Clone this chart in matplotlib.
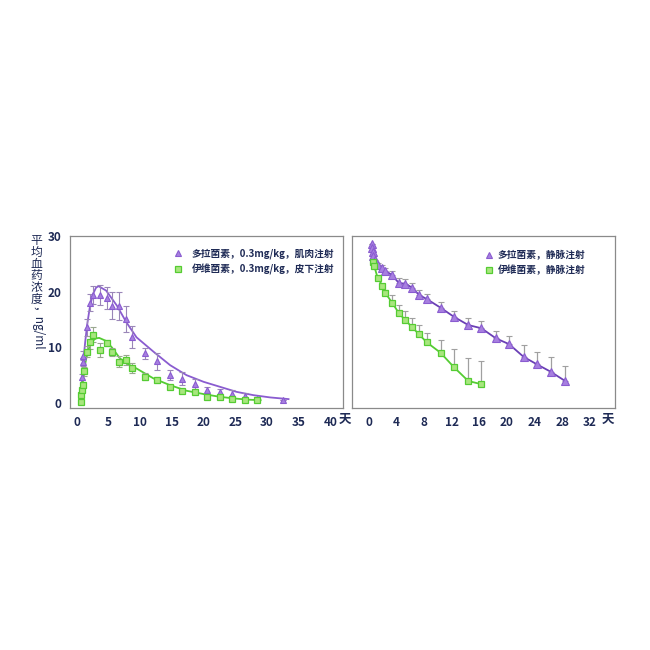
import numpy as np
import matplotlib
matplotlib.use("Agg")
import matplotlib.pyplot as plt
from matplotlib.lines import Line2D

plt.rcParams['font.family'] = ['Noto Sans CJK SC', 'DejaVu Sans']

# ---- left panel: intramuscular / subcutaneous, linear scale ----
dola_im_x = [0.74, 0.9, 1.0, 1.6, 2.05, 2.5, 3.6, 4.8, 5.6, 6.7, 7.7, 8.7, 10.7,
             12.7, 14.7, 16.6, 18.6, 20.6, 22.6, 24.5, 26.5, 28.5, 32.6]
dola_im_y = [4.7, 7.4, 8.5, 13.6, 18.0, 19.4, 19.4, 18.8, 17.5, 17.4, 15.1, 11.8, 8.9,
             7.5, 5.0, 4.4, 3.5, 2.3, 2.0, 1.55, 1.25, 0.8, 0.5]
dola_im_err = [0.5, 0.7, 0.8, 1.5, 1.5, 1.6, 1.8, 2.0, 2.4, 2.5, 2.4, 2.0, 1.0,
               1.5, 0.9, 1.2, 0.9, 0.6, 0.6, 0.7, 0.5, 0.3, 0.0]
dola_fit_x = [0.6, 0.8, 1.0, 1.3, 1.6, 2.0, 2.5, 3.0, 3.4, 4.6, 6.3, 7.8, 9.4, 12.1,
              14.7, 17.3, 20.0, 22.6, 25.2, 27.9, 30.5, 33.4]
dola_fit_y = [0.5, 4.0, 7.5, 11.0, 14.0, 17.0, 19.5, 20.7, 21.0, 20.2, 17.5, 14.5, 11.8,
              9.2, 6.8, 5.0, 3.8, 2.9, 2.0, 1.4, 1.0, 0.7]

ive_sc_x = [0.63, 0.7, 0.8, 0.95, 1.15, 1.6, 2.05, 2.6, 3.6, 4.7, 5.6, 6.7, 7.7, 8.7,
            10.7, 12.7, 14.7, 16.6, 18.6, 20.6, 22.6, 24.5, 26.5, 28.5]
ive_sc_y = [0.2, 1.4, 2.3, 3.2, 5.7, 9.2, 10.9, 12.3, 9.5, 10.8, 9.2, 7.4, 7.7, 6.2,
            4.7, 4.1, 2.8, 2.1, 1.9, 1.0, 1.0, 0.7, 0.5, 0.5]
ive_sc_err = [0.0, 0.3, 0.4, 0.5, 0.8, 1.0, 1.2, 1.4, 1.2, 0.6, 0.7, 1.0, 0.9, 0.9,
              0.6, 0.5, 0.2, 0.2, 0.2, 0.2, 0.2, 0.2, 0.2, 0.2]
ive_fit_x = [0.6, 0.8, 1.0, 1.3, 1.6, 2.0, 2.5, 3.0, 3.5, 4.5, 5.5, 6.8, 8.0, 9.4,
             12.1, 14.7, 17.3, 20.0, 22.6, 25.0, 27.0, 29.0]
ive_fit_y = [0.3, 2.5, 4.5, 7.0, 8.8, 10.2, 11.2, 11.6, 11.7, 11.2, 10.0, 8.0, 7.0, 6.2,
             4.4, 3.2, 2.2, 1.6, 1.1, 0.8, 0.6, 0.5]

# ---- right panel: intravenous, log scale (no y labels) ----
dola_iv_x = [0.45, 0.5, 0.6, 0.7, 0.9, 1.3, 2.0, 2.4, 3.4, 4.4, 5.3, 6.3, 7.3, 8.4,
             10.4, 12.3, 14.4, 16.3, 18.4, 20.3, 22.4, 24.3, 26.3, 28.4]
dola_iv_y = [36.3, 30.9, 26.3, 22.4, 19.1, 15.6, 13.7, 12.4, 10.4, 7.5, 7.4, 6.27, 4.68,
             3.98, 2.81, 1.96, 1.40, 1.23, 0.82, 0.65, 0.39, 0.29, 0.215, 0.148]
dola_iv_err = [0, 0, 0, 0, 0, 1.3, 1.75, 1.6, 1.8, 1.67, 1.64, 1.39, 1.04, 0.88,
               0.77, 0.54, 0.46, 0.40, 0.27, 0.25, 0.24, 0.18, 0.18, 0.12]

ive_iv_x = [0.6, 0.8, 1.3, 2.0, 2.4, 3.4, 4.4, 5.3, 6.3, 7.3, 8.4, 10.4, 12.3, 14.4, 16.3]
ive_iv_y = [17.4, 15.2, 9.37, 6.79, 5.13, 3.43, 2.24, 1.71, 1.28, 0.96, 0.70, 0.46,
            0.26, 0.148, 0.13]
ive_iv_err = [0, 0, 0, 0, 0.66, 1.3, 0.85, 0.74, 0.56, 0.42, 0.30, 0.32, 0.28, 0.22, 0.20]

left_xticks = [0, 5, 10, 15, 20, 25, 30, 35, 40]
left_yticks = [0, 10, 20, 30]
right_xticks = [0, 4, 8, 12, 16, 20, 24, 28, 32]

purple = '#8a5cd0'
purple_face = '#a77fe0'
green = '#55cc33'
green_face = '#a8e67e'
navy = '#1e2a55'

fig = plt.figure(figsize=(6.5, 6.5), dpi=100)
ax1 = fig.add_axes([0.1077, 0.3723, 0.42, 0.2646])
ax2 = fig.add_axes([0.5415, 0.3723, 0.4046, 0.2646])

for ax in (ax1, ax2):
    for s in ax.spines.values():
        s.set_color('#8a8a8a')
        s.set_linewidth(0.9)
    ax.tick_params(length=0, labelsize=8.5, labelcolor=navy, pad=6)

# left panel
ax1.plot(dola_fit_x, dola_fit_y, color=purple, lw=1.3, zorder=2)
ax1.plot(ive_fit_x, ive_fit_y, color=green, lw=1.3, zorder=2)
ax1.errorbar(dola_im_x, dola_im_y, yerr=dola_im_err, fmt='none', ecolor='#9a86b8',
             elinewidth=0.8, capsize=2, capthick=0.8, zorder=3)
ax1.errorbar(ive_sc_x, ive_sc_y, yerr=ive_sc_err, fmt='none', ecolor='#9aa890',
             elinewidth=0.8, capsize=2, capthick=0.8, zorder=3)
ax1.plot(dola_im_x, dola_im_y, ls='none', marker='^', ms=5, mfc=purple_face,
         mec=purple, mew=0.8, zorder=4, label='多拉菌素，0.3mg/kg，肌肉注射')
ax1.plot(ive_sc_x, ive_sc_y, ls='none', marker='s', ms=4.5, mfc=green_face,
         mec=green, mew=0.9, zorder=4, label='伊维菌素，0.3mg/kg，皮下注射')
ax1.set_xlim(-1.1, 42)
ax1.set_ylim(-0.9, 30)
ax1.set_xticks(left_xticks)
ax1.set_yticks(left_yticks)
ax1.set_xticklabels([str(t) for t in left_xticks], fontweight='bold')
ax1.set_yticklabels([str(t) for t in left_yticks], fontweight='bold')
leg1 = ax1.legend(loc='upper right', bbox_to_anchor=(1.0, 0.98), frameon=False,
                  fontsize=7, handlelength=1.2, handletextpad=0.8, labelspacing=0.5)
for t in leg1.get_texts():
    t.set_color(navy)
    t.set_fontweight('bold')

# right panel
ax2.set_yscale('log')
ax2.errorbar(dola_iv_x, dola_iv_y, yerr=[np.zeros(len(dola_iv_err)), dola_iv_err],
             fmt='none', ecolor='#a0a0a0', elinewidth=0.9, capsize=2, capthick=0.8, zorder=2)
ax2.errorbar(ive_iv_x, ive_iv_y, yerr=[np.zeros(len(ive_iv_err)), ive_iv_err],
             fmt='none', ecolor='#a0a0a0', elinewidth=0.9, capsize=2, capthick=0.8, zorder=2)
ax2.plot(dola_iv_x, dola_iv_y, color='#6a3fb5', lw=1.3, marker='^', ms=6,
         mfc=purple_face, mec=purple, mew=0.8, zorder=3)
ax2.plot(ive_iv_x, ive_iv_y, color=green, lw=1.3, marker='s', ms=5,
         mfc=green_face, mec=green, mew=0.9, zorder=3)
ax2.set_xlim(-2.4, 35.6)
ax2.set_ylim(0.05, 50)
ax2.set_xticks(right_xticks)
ax2.set_xticklabels([str(t) for t in right_xticks], fontweight='bold')
ax2.yaxis.set_major_locator(matplotlib.ticker.NullLocator())
ax2.yaxis.set_minor_locator(matplotlib.ticker.NullLocator())
handles2 = [Line2D([], [], ls='none', marker='^', ms=5, mfc=purple_face, mec=purple, mew=0.8),
            Line2D([], [], ls='none', marker='s', ms=4.5, mfc=green_face, mec=green, mew=0.9)]
leg2 = ax2.legend(handles2, ['多拉菌素，静脉注射', '伊维菌素，静脉注射'],
                  loc='upper right', bbox_to_anchor=(0.92, 0.97), frameon=False,
                  fontsize=7, handlelength=0.8, handletextpad=0.5, labelspacing=0.5)
for t in leg2.get_texts():
    t.set_color(navy)
    t.set_fontweight('bold')

# unit labels "天"
fig.text(345 / 650, 1 - 419 / 650, '天', ha='center', va='center', fontsize=9,
         color=navy, fontweight='bold')
fig.text(608 / 650, 1 - 419 / 650, '天', ha='center', va='center', fontsize=9,
         color=navy, fontweight='bold')

# vertical y label: CJK upright, latin rotated
fig.text(36 / 650, 1 - 234 / 650, '平\n均\n血\n药\n浓\n度', ha='center', va='top',
         fontsize=8.5, color=navy, linespacing=0.88)
fig.text(37 / 650, 1 - 328 / 650, '，ng/ml', ha='center', va='center', rotation=-90,
         fontsize=8.5, color=navy)

fig.savefig('out.png', dpi=100, facecolor='white')
